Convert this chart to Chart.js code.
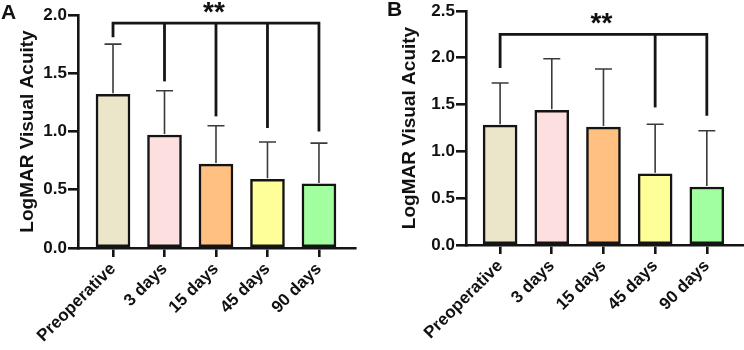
<!DOCTYPE html>
<html>
<head>
<meta charset="utf-8">
<script src="https://cdn.jsdelivr.net/npm/chart.js@4/dist/chart.umd.min.js"></script>
<style>
  html, body { margin: 0; padding: 0; background: #fff; }
  #wrap { position: relative; width: 744px; height: 350px; }
  canvas { position: absolute; top: 0; }
  #cA { left: 0; }
  #cB { left: 372px; }
</style>
</head>
<body>
<div id="wrap">
  <canvas id="cA" width="372" height="350"></canvas>
  <canvas id="cB" width="372" height="350"></canvas>
</div>
<script>
const categories = ['Preoperative', '3 days', '15 days', '45 days', '90 days'];
const barColors = ['#ebe5c9', '#fedfe0', '#ffc081', '#ffff99', '#a2ffa0'];

const meanA = [1.32, 0.97, 0.72, 0.59, 0.55];
const sdA   = [0.43, 0.38, 0.33, 0.32, 0.35];
const yTicksA = [0, 0.5, 1.0, 1.5, 2.0];
const bracketTopA = 1.93;
const bracketDropsA = [1.81, 1.43, 1.13, 1.03, 1.00];

const meanB = [1.28, 1.44, 1.26, 0.76, 0.62];
const sdB   = [0.45, 0.55, 0.62, 0.53, 0.60];
const yTicksB = [0, 0.5, 1.0, 1.5, 2.0, 2.5];
const bracketTopB = 2.25;
const bracketDropsB = [1.89, null, null, 1.47, 1.38];

const FONT = '"Liberation Sans", Arial, Helvetica, sans-serif';

const overlay = {
  id: 'overlay',
  afterDatasetsDraw(chart, args, opts) {
    const ctx = chart.ctx;
    const xs = chart.scales.x, ys = chart.scales.y;
    ctx.save();
    // error bars
    ctx.strokeStyle = '#3a3a3a';
    ctx.lineWidth = 1.6;
    opts.mean.forEach((m, i) => {
      const x = xs.getPixelForValue(i);
      const y0 = ys.getPixelForValue(m);
      const y1 = ys.getPixelForValue(m + opts.sd[i]);
      ctx.beginPath();
      ctx.moveTo(x, y0 - 1);
      ctx.lineTo(x, y1);
      ctx.moveTo(x - 8.5, y1);
      ctx.lineTo(x + 8.5, y1);
      ctx.stroke();
    });
    // bracket
    ctx.strokeStyle = '#151515';
    ctx.lineWidth = 2.8;
    ctx.lineJoin = 'miter';
    const drops = opts.drops;
    const first = drops.findIndex(d => d !== null);
    let last = drops.length - 1;
    while (drops[last] === null) last--;
    const yTop = ys.getPixelForValue(opts.top);
    ctx.beginPath();
    ctx.moveTo(xs.getPixelForValue(first), ys.getPixelForValue(drops[first]));
    ctx.lineTo(xs.getPixelForValue(first), yTop);
    ctx.lineTo(xs.getPixelForValue(last), yTop);
    ctx.lineTo(xs.getPixelForValue(last), ys.getPixelForValue(drops[last]));
    ctx.stroke();
    drops.forEach((d, i) => {
      if (d === null || i === first || i === last) return;
      const x = xs.getPixelForValue(i);
      ctx.beginPath();
      ctx.moveTo(x, yTop);
      ctx.lineTo(x, ys.getPixelForValue(d));
      ctx.stroke();
    });
    // stars
    ctx.fillStyle = '#111';
    ctx.font = 'bold 28px ' + FONT;
    ctx.textAlign = 'center';
    ctx.textBaseline = 'alphabetic';
    const xm = (xs.getPixelForValue(first) + xs.getPixelForValue(last)) / 2 - 2;
    ctx.fillText('**', xm, yTop - 2);
    // panel letter
    ctx.font = 'bold 21px ' + FONT;
    ctx.textAlign = 'left';
    ctx.fillText(opts.letter, opts.letterX, opts.letterY);
    ctx.restore();
  }
};

function makeChart(id, mean, sd, yTicks, top, drops, cfg) {
  const yMax = yTicks[yTicks.length - 1];
  return new Chart(document.getElementById(id), {
    type: 'bar',
    data: {
      datasets: [{
        data: mean.map((v, i) => ({ x: i, y: v })),
        backgroundColor: barColors,
        borderColor: '#141414',
        borderWidth: 2.5,
        borderSkipped: false,
        barThickness: 34
      }]
    },
    plugins: [overlay],
    options: {
      responsive: false,
      animation: false,
      events: [],
      layout: { padding: { top: cfg.padTop, right: cfg.padRight, left: 0, bottom: 0 } },
      plugins: {
        legend: { display: false },
        tooltip: { enabled: false },
        overlay: { mean, sd, top, drops, letter: cfg.letter, letterX: cfg.letterX, letterY: cfg.letterY }
      },
      scales: {
        x: {
          type: 'linear',
          min: cfg.xMin,
          max: cfg.xMax,
          offset: false,
          z: 1,
          afterBuildTicks: s => { s.ticks = categories.map((c, i) => ({ value: i })); },
          afterFit: s => { s.height = cfg.xHeight; s.paddingLeft = 0; s.paddingRight = 0; },
          border: { display: true, color: '#141414', width: 2.6 },
          grid: { offset: false, drawOnChartArea: false, drawTicks: true, tickLength: 9, color: '#141414', lineWidth: 2.6 },
          ticks: {
            autoSkip: false,
            maxRotation: 45, minRotation: 45,
            padding: 2,
            color: '#111',
            font: { family: FONT, size: 17, weight: 'bold' },
            callback: v => categories[v]
          }
        },
        y: {
          min: 0,
          max: yMax,
          afterBuildTicks: s => { s.ticks = yTicks.map(v => ({ value: v })); },
          afterFit: s => { s.width = cfg.yWidth; s.paddingTop = 0; s.paddingBottom = 0; },
          border: { display: true, color: '#141414', width: 2.6 },
          grid: { drawOnChartArea: false, drawTicks: true, tickLength: 10, color: '#141414', lineWidth: 2.6 },
          ticks: {
            padding: 1,
            color: '#111',
            font: { family: FONT, size: 17, weight: 'bold' },
            callback: v => Number(v).toFixed(1)
          },
          title: {
            display: true,
            text: 'LogMAR Visual Acuity',
            color: '#111',
            font: { family: FONT, size: 19, weight: 'bold' },
            padding: { top: cfg.titlePad, bottom: 0 }
          }
        }
      }
    }
  });
}

makeChart('cA', meanA, sdA, yTicksA, bracketTopA, bracketDropsA, {
  padTop: 15, padRight: 17, xHeight: 102, yWidth: 78, titlePad: 16.5,
  xMin: -0.68, xMax: 4.70, letter: 'A', letterX: 1, letterY: 19
});
makeChart('cB', meanB, sdB, yTicksB, bracketTopB, bracketDropsB, {
  padTop: 11, padRight: 1, xHeight: 105, yWidth: 94, titlePad: 26.5,
  xMin: -0.66, xMax: 4.70, letter: 'B', letterX: 15, letterY: 16
});
</script>
</body>
</html>
